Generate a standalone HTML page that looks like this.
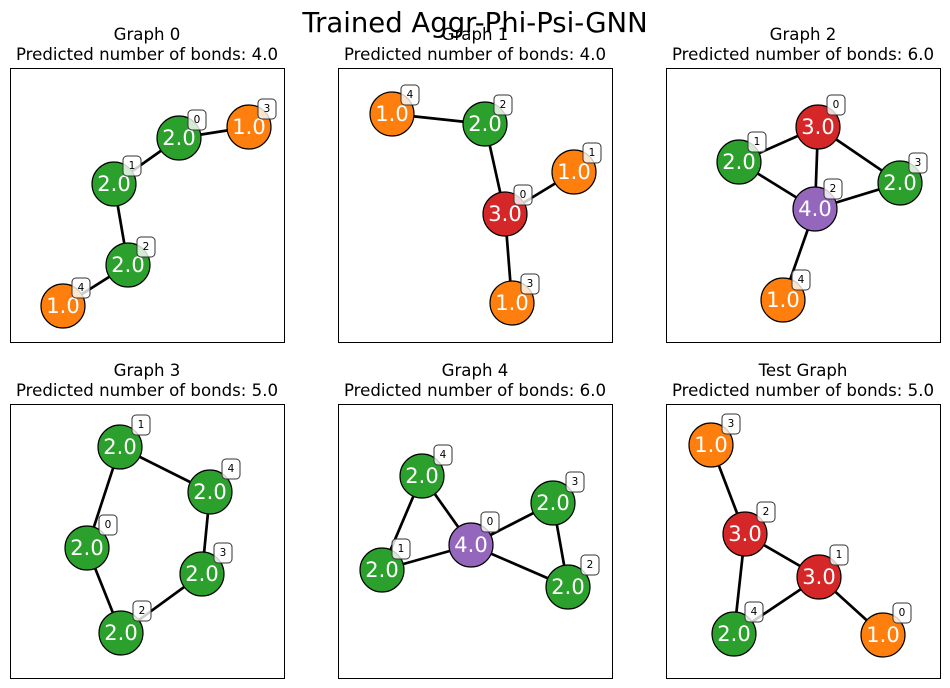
<!DOCTYPE html>
<html><head><meta charset="utf-8"><style>
html,body{margin:0;padding:0;background:#fff;}
svg{display:block;font-family:"DejaVu Sans","Liberation Sans",sans-serif;}
.t{font-size:16.6px;fill:#000;text-anchor:middle;}
.n{font-size:21px;fill:#fff;text-anchor:middle;dominant-baseline:central;}
.b{font-size:10.5px;fill:#000;text-anchor:middle;dominant-baseline:central;}
.e{stroke:#000;stroke-width:2.7;}
.c{stroke:#000;stroke-width:1.2;}
.bx{fill:#fff;fill-opacity:0.8;stroke:#333;stroke-width:1;}
</style></head><body>
<svg width="950" height="688" viewBox="0 0 950 688" id="s">
<text x="475" y="32" style="font-size:27.5px;text-anchor:middle">Trained Aggr-Phi-Psi-GNN</text>
<g fill="none" stroke="#000" stroke-width="1">
<rect x="10.5" y="68.5" width="274" height="274"/>
<rect x="338.5" y="68.5" width="274" height="274"/>
<rect x="666.5" y="68.5" width="274" height="274"/>
<rect x="10.5" y="404.5" width="274" height="274"/>
<rect x="338.5" y="404.5" width="274" height="274"/>
<rect x="666.5" y="404.5" width="274" height="274"/>
</g>
<text class="t" x="147" y="40">Graph 0</text><text class="t" x="147" y="60">Predicted number of bonds: 4.0</text>
<text class="t" x="475" y="40">Graph 1</text><text class="t" x="475" y="60">Predicted number of bonds: 4.0</text>
<text class="t" x="803" y="40">Graph 2</text><text class="t" x="803" y="60">Predicted number of bonds: 6.0</text>
<text class="t" x="147" y="376">Graph 3</text><text class="t" x="147" y="396">Predicted number of bonds: 5.0</text>
<text class="t" x="475" y="376">Graph 4</text><text class="t" x="475" y="396">Predicted number of bonds: 6.0</text>
<text class="t" x="803" y="376">Test Graph</text><text class="t" x="803" y="396">Predicted number of bonds: 5.0</text>

<!-- G0 -->
<g>
<line class="e" x1="179" y1="138" x2="249" y2="127"/><line class="e" x1="179" y1="138" x2="114" y2="184"/>
<line class="e" x1="114" y1="184" x2="128" y2="265"/><line class="e" x1="128" y1="265" x2="63" y2="306"/>
<circle class="c" cx="179" cy="138" r="22" fill="#2ca02c"/><text class="n" x="179" y="138">2.0</text>
<circle class="c" cx="249" cy="127" r="22" fill="#ff7f0e"/><text class="n" x="249" y="127">1.0</text>
<circle class="c" cx="114" cy="184" r="22" fill="#2ca02c"/><text class="n" x="114" y="184">2.0</text>
<circle class="c" cx="128" cy="265" r="22" fill="#2ca02c"/><text class="n" x="128" y="265">2.0</text>
<circle class="c" cx="63" cy="306" r="22" fill="#ff7f0e"/><text class="n" x="63" y="306">1.0</text>
<rect class="bx" x="188" y="110" width="18" height="20" rx="4"/><text class="b" x="197" y="120">0</text>
<rect class="bx" x="258" y="99" width="18" height="20" rx="4"/><text class="b" x="267" y="109">3</text>
<rect class="bx" x="123" y="156" width="18" height="20" rx="4"/><text class="b" x="132" y="166">1</text>
<rect class="bx" x="137" y="237" width="18" height="20" rx="4"/><text class="b" x="146" y="247">2</text>
<rect class="bx" x="72" y="278" width="18" height="20" rx="4"/><text class="b" x="81" y="288">4</text>
</g>
<!-- G1 -->
<g>
<line class="e" x1="392" y1="114" x2="485" y2="124"/><line class="e" x1="485" y1="124" x2="505" y2="214"/>
<line class="e" x1="505" y1="214" x2="574" y2="172"/><line class="e" x1="505" y1="214" x2="512" y2="303"/>
<circle class="c" cx="392" cy="114" r="22" fill="#ff7f0e"/><text class="n" x="392" y="114">1.0</text>
<circle class="c" cx="485" cy="124" r="22" fill="#2ca02c"/><text class="n" x="485" y="124">2.0</text>
<circle class="c" cx="505" cy="214" r="22" fill="#d62728"/><text class="n" x="505" y="214">3.0</text>
<circle class="c" cx="574" cy="172" r="22" fill="#ff7f0e"/><text class="n" x="574" y="172">1.0</text>
<circle class="c" cx="512" cy="303" r="22" fill="#ff7f0e"/><text class="n" x="512" y="303">1.0</text>
<rect class="bx" x="401" y="85" width="18" height="20" rx="4"/><text class="b" x="410" y="95">4</text>
<rect class="bx" x="494" y="95" width="18" height="20" rx="4"/><text class="b" x="503" y="105">2</text>
<rect class="bx" x="514" y="185" width="18" height="20" rx="4"/><text class="b" x="523" y="195">0</text>
<rect class="bx" x="583" y="143" width="18" height="20" rx="4"/><text class="b" x="592" y="153">1</text>
<rect class="bx" x="521" y="274" width="18" height="20" rx="4"/><text class="b" x="530" y="284">3</text>
</g>
<!-- G2 -->
<g>
<line class="e" x1="818" y1="127" x2="739" y2="162"/><line class="e" x1="818" y1="127" x2="815" y2="209"/>
<line class="e" x1="818" y1="127" x2="900" y2="183"/><line class="e" x1="739" y1="162" x2="815" y2="209"/>
<line class="e" x1="815" y1="209" x2="900" y2="183"/><line class="e" x1="815" y1="209" x2="783" y2="300"/>
<circle class="c" cx="818" cy="127" r="22" fill="#d62728"/><text class="n" x="818" y="127">3.0</text>
<circle class="c" cx="739" cy="162" r="22" fill="#2ca02c"/><text class="n" x="739" y="162">2.0</text>
<circle class="c" cx="900" cy="183" r="22" fill="#2ca02c"/><text class="n" x="900" y="183">2.0</text>
<circle class="c" cx="815" cy="209" r="22" fill="#9467bd"/><text class="n" x="815" y="209">4.0</text>
<circle class="c" cx="783" cy="300" r="22" fill="#ff7f0e"/><text class="n" x="783" y="300">1.0</text>
<rect class="bx" x="827" y="95" width="18" height="20" rx="4"/><text class="b" x="836" y="105">0</text>
<rect class="bx" x="748" y="132" width="18" height="20" rx="4"/><text class="b" x="757" y="142">1</text>
<rect class="bx" x="909" y="153" width="18" height="20" rx="4"/><text class="b" x="918" y="163">3</text>
<rect class="bx" x="824" y="179" width="18" height="20" rx="4"/><text class="b" x="833" y="189">2</text>
<rect class="bx" x="792" y="270" width="18" height="20" rx="4"/><text class="b" x="801" y="280">4</text>
</g>
<!-- G3 -->
<g>
<line class="e" x1="120" y1="447" x2="210" y2="492"/><line class="e" x1="120" y1="447" x2="87" y2="548"/>
<line class="e" x1="210" y1="492" x2="202" y2="574"/><line class="e" x1="202" y1="574" x2="121" y2="633"/>
<line class="e" x1="87" y1="548" x2="121" y2="633"/>
<circle class="c" cx="120" cy="447" r="22" fill="#2ca02c"/><text class="n" x="120" y="447">2.0</text>
<circle class="c" cx="210" cy="492" r="22" fill="#2ca02c"/><text class="n" x="210" y="492">2.0</text>
<circle class="c" cx="87" cy="548" r="22" fill="#2ca02c"/><text class="n" x="87" y="548">2.0</text>
<circle class="c" cx="202" cy="574" r="22" fill="#2ca02c"/><text class="n" x="202" y="574">2.0</text>
<circle class="c" cx="121" cy="633" r="22" fill="#2ca02c"/><text class="n" x="121" y="633">2.0</text>
<rect class="bx" x="132" y="415" width="18" height="20" rx="4"/><text class="b" x="141" y="425">1</text>
<rect class="bx" x="222" y="459" width="18" height="20" rx="4"/><text class="b" x="231" y="469">4</text>
<rect class="bx" x="99" y="515" width="18" height="20" rx="4"/><text class="b" x="108" y="525">0</text>
<rect class="bx" x="214" y="543" width="18" height="20" rx="4"/><text class="b" x="223" y="553">3</text>
<rect class="bx" x="133" y="601" width="18" height="20" rx="4"/><text class="b" x="142" y="611">2</text>
</g>
<!-- G4 -->
<g>
<line class="e" x1="422" y1="476" x2="382" y2="570"/><line class="e" x1="422" y1="476" x2="471" y2="545"/>
<line class="e" x1="382" y1="570" x2="471" y2="545"/><line class="e" x1="471" y1="545" x2="553" y2="503"/>
<line class="e" x1="471" y1="545" x2="568" y2="587"/><line class="e" x1="553" y1="503" x2="568" y2="587"/>
<circle class="c" cx="422" cy="476" r="22" fill="#2ca02c"/><text class="n" x="422" y="476">2.0</text>
<circle class="c" cx="471" cy="545" r="22" fill="#9467bd"/><text class="n" x="471" y="545">4.0</text>
<circle class="c" cx="553" cy="503" r="22" fill="#2ca02c"/><text class="n" x="553" y="503">2.0</text>
<circle class="c" cx="382" cy="570" r="22" fill="#2ca02c"/><text class="n" x="382" y="570">2.0</text>
<circle class="c" cx="568" cy="587" r="22" fill="#2ca02c"/><text class="n" x="568" y="587">2.0</text>
<rect class="bx" x="434" y="445" width="18" height="20" rx="4"/><text class="b" x="443" y="455">4</text>
<rect class="bx" x="481" y="512" width="18" height="20" rx="4"/><text class="b" x="490" y="522">0</text>
<rect class="bx" x="566" y="472" width="18" height="20" rx="4"/><text class="b" x="575" y="482">3</text>
<rect class="bx" x="392" y="539" width="18" height="20" rx="4"/><text class="b" x="401" y="549">1</text>
<rect class="bx" x="581" y="555" width="18" height="20" rx="4"/><text class="b" x="590" y="565">2</text>
</g>
<!-- Test -->
<g>
<line class="e" x1="711" y1="445" x2="745" y2="534"/><line class="e" x1="745" y1="534" x2="819" y2="577"/>
<line class="e" x1="745" y1="534" x2="734" y2="634"/><line class="e" x1="819" y1="577" x2="734" y2="634"/>
<line class="e" x1="819" y1="577" x2="883" y2="635"/>
<circle class="c" cx="711" cy="445" r="22" fill="#ff7f0e"/><text class="n" x="711" y="445">1.0</text>
<circle class="c" cx="745" cy="534" r="22" fill="#d62728"/><text class="n" x="745" y="534">3.0</text>
<circle class="c" cx="819" cy="577" r="22" fill="#d62728"/><text class="n" x="819" y="577">3.0</text>
<circle class="c" cx="883" cy="635" r="22" fill="#ff7f0e"/><text class="n" x="883" y="635">1.0</text>
<circle class="c" cx="734" cy="634" r="22" fill="#2ca02c"/><text class="n" x="734" y="634">2.0</text>
<rect class="bx" x="722" y="414" width="18" height="20" rx="4"/><text class="b" x="731" y="424">3</text>
<rect class="bx" x="757" y="502" width="18" height="20" rx="4"/><text class="b" x="766" y="512">2</text>
<rect class="bx" x="830" y="545" width="18" height="20" rx="4"/><text class="b" x="839" y="555">1</text>
<rect class="bx" x="893" y="603" width="18" height="20" rx="4"/><text class="b" x="902" y="613">0</text>
<rect class="bx" x="745" y="602" width="18" height="20" rx="4"/><text class="b" x="754" y="612">4</text>
</g>
</svg>
</body></html>
